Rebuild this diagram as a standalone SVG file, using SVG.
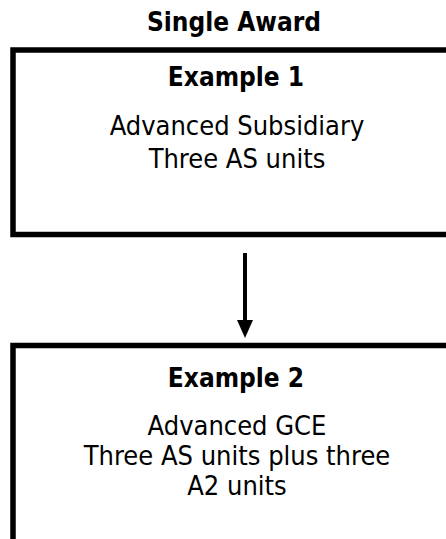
<svg xmlns="http://www.w3.org/2000/svg" width="446" height="539" viewBox="0 0 446 539">
  <defs>
    <style>
      .t { font-family: "DejaVu Sans Condensed", "DejaVu Sans", sans-serif; font-stretch: condensed; font-size: 27px; fill: #000; text-anchor: middle; }
      .b { font-weight: bold; font-size: 26px; }
      .box { fill: none; stroke: #000; stroke-width: 5.5; }
      .conn { stroke: #000; stroke-width: 4; fill: none; }
    </style>
  </defs>
  <rect width="446" height="539" fill="#fff"/>

  <text class="t b" x="234" y="31">Single Award</text>

  <!-- upper box runs off the right edge -->
  <g id="example1">
    <rect class="box" x="13" y="50" width="450" height="184.5"/>
    <text class="t b" x="236" y="86">Example 1</text>
    <text class="t" x="237" y="135">Advanced Subsidiary</text>
    <text class="t" x="237" y="168">Three AS units</text>
  </g>

  <!-- lower box runs off the right and bottom edges -->
  <g id="example2">
    <rect class="box" x="13" y="345.5" width="450" height="220"/>
    <text class="t b" x="236" y="387">Example 2</text>
    <text class="t" x="237" y="435">Advanced GCE</text>
    <text class="t" x="237" y="465">Three AS units plus three</text>
    <text class="t" x="237" y="495">A2 units</text>
  </g>

  <g id="connectors">
    <line class="conn" x1="245" y1="253" x2="245" y2="324"/>
    <path d="M237,320 L253,320 L245,338 Z" fill="#000"/>
  </g>
</svg>
